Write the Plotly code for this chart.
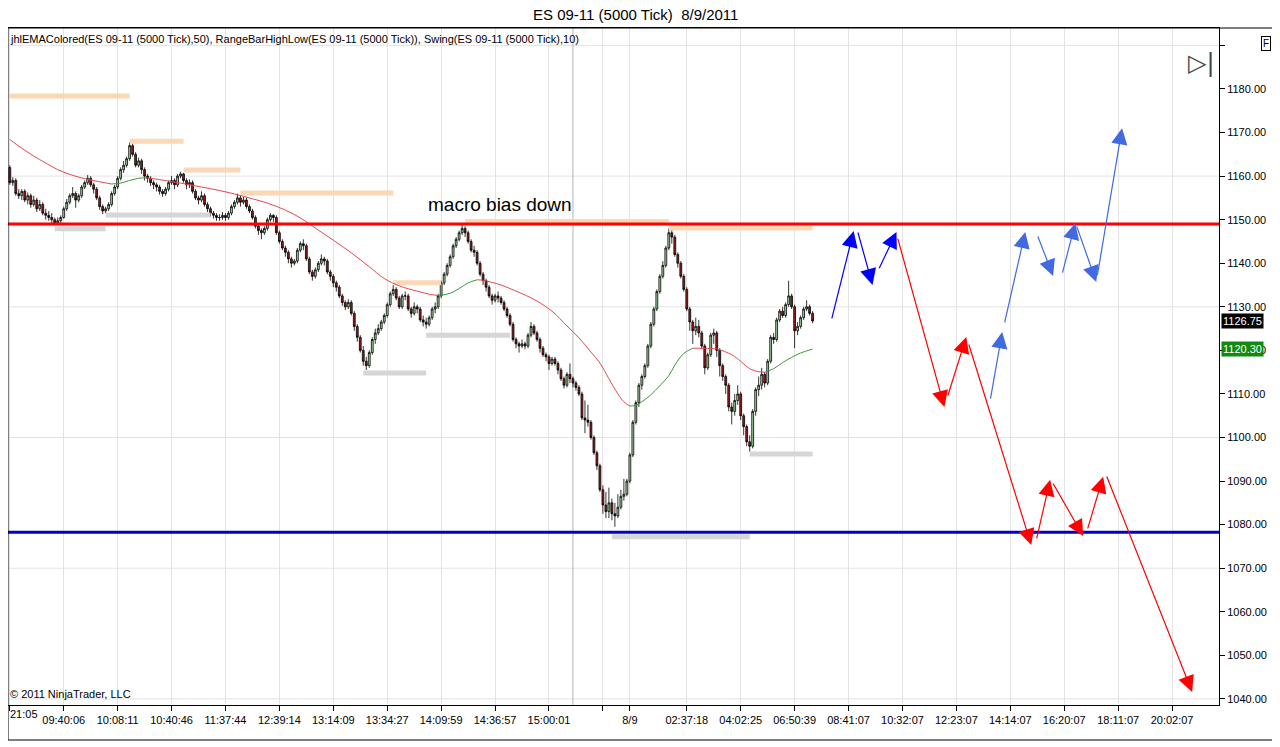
import plotly.graph_objects as go

# ES 09-11 (5000 Tick) bars, session of 8/9/2011
opens = [
    1162, 1158.5, 1159, 1156, 1155.5, 1156.5, 1154.5, 1155.5, 1153.5, 1154.5,
    1152.5, 1153.5, 1151.5, 1151, 1150.5, 1150, 1149.25, 1149.75, 1150.5, 1152.5,
    1154, 1155.5, 1156, 1154.5, 1155.5, 1157.5, 1158.5, 1159.5, 1158, 1157,
    1155, 1153, 1152, 1152.5, 1153.5, 1156, 1157.5, 1159.5, 1161.5, 1162.5,
    1164, 1167, 1165, 1162.5, 1163.5, 1161.5, 1160, 1159.5, 1158.5, 1158,
    1157.5, 1156.5, 1156, 1157, 1158.5, 1159, 1158, 1160, 1160.5, 1159,
    1158, 1158.5, 1156.5, 1155, 1154.5, 1155.5, 1153.5, 1152.5, 1151.5, 1151,
    1150.5, 1150.5, 1151, 1150.5, 1151.5, 1153, 1154, 1155, 1154, 1154.5,
    1153, 1152, 1150.5, 1148.5, 1147.5, 1147, 1148, 1150, 1151, 1150.5,
    1147, 1145, 1143.5, 1142.5, 1141, 1140, 1140.5, 1143, 1144.5, 1144,
    1141, 1138, 1137, 1138.5, 1140, 1141, 1140.5, 1138, 1137, 1135.5,
    1134.5, 1132.5, 1131, 1130, 1131, 1128.5, 1125.5, 1123, 1120, 1117.5,
    1116.5, 1119.5, 1122.5, 1124, 1125, 1126.5, 1128, 1130.5, 1133, 1134,
    1132, 1130, 1132.5, 1132.5, 1129.5, 1128.5, 1130, 1129.5, 1127, 1126.5,
    1126, 1127.5, 1129.5, 1130, 1132.5, 1135.5, 1137.5, 1139.5, 1141.5, 1144,
    1145.5, 1147, 1148, 1147, 1145, 1143, 1142.5, 1140, 1137.5, 1136,
    1134.5, 1132.5, 1131.5, 1132.5, 1132, 1131, 1129.5, 1128, 1126, 1122.5,
    1121.5, 1121, 1121.5, 1121, 1123.5, 1125.5, 1124, 1122.5, 1120.5, 1119,
    1118.5, 1117, 1118, 1117, 1115.5, 1113.5, 1112, 1114.5, 1113.5, 1112.5,
    1111.5, 1110, 1104.5, 1104, 1103.5, 1100, 1096.5, 1093.5, 1088, 1084.5,
    1083, 1085, 1082.5, 1082, 1084, 1086.5, 1087, 1090, 1096, 1103.5,
    1108, 1112, 1114, 1116.5, 1121, 1126, 1129.5, 1133.5, 1137, 1139.5,
    1143.5, 1147, 1146, 1142, 1140, 1137, 1134, 1129.5, 1126.5, 1124.5,
    1125.5, 1124, 1121, 1116, 1119, 1123.5, 1124, 1120, 1116.5, 1114,
    1112, 1107, 1106, 1108.5, 1110, 1105, 1102.5, 1099, 1098, 1106,
    1111, 1112, 1114.5, 1112.5, 1117.5, 1123, 1122.5, 1127, 1129, 1128,
    1130.5, 1132.5, 1130, 1124.5, 1125.5, 1127.5, 1129.5, 1130, 1128.5,
]
highs = [
    1162.5, 1159.75, 1159.5, 1157, 1157, 1157, 1156.25, 1156, 1155.5, 1155,
    1154.5, 1154, 1152.5, 1152, 1151.5, 1150.5, 1150.5, 1151, 1153, 1154.75,
    1156, 1157.5, 1156.5, 1156, 1158, 1159, 1160.25, 1160, 1158.5, 1157.5,
    1155.5, 1153.5, 1153, 1154, 1156.5, 1158, 1160, 1162, 1163.5, 1164.5,
    1167.75, 1167.5, 1165.5, 1164.25, 1164, 1162, 1160.5, 1160, 1159, 1158.5,
    1158, 1157, 1157.5, 1159, 1160, 1159.5, 1160.5, 1161, 1160.75, 1159.5,
    1159.25, 1159, 1157, 1155.5, 1156.5, 1156, 1154, 1153, 1152, 1151.5,
    1151.25, 1151.75, 1151.5, 1152, 1153.5, 1154.5, 1156, 1155.5, 1155.25, 1155,
    1153.5, 1152.5, 1151, 1149, 1148, 1148.5, 1150.5, 1151.5, 1151.25, 1151,
    1147.5, 1145.5, 1144, 1143, 1141.5, 1141, 1143.5, 1145, 1145.5, 1144.5,
    1141.5, 1138.5, 1139, 1140.5, 1142, 1141.5, 1141, 1138.5, 1137.5, 1136,
    1135, 1133, 1131.5, 1131.75, 1131.5, 1129, 1126, 1123.5, 1121, 1118.5,
    1120, 1123, 1125, 1126, 1127, 1128.5, 1131, 1133.5, 1135, 1134.5,
    1132.5, 1133, 1133.5, 1133, 1130, 1131, 1130.5, 1130, 1128, 1127.5,
    1128, 1130, 1131, 1133, 1136, 1138, 1140, 1142, 1144.5, 1146,
    1147.5, 1149, 1148.5, 1147.5, 1145.5, 1144, 1143, 1140.5, 1138, 1136.5,
    1135, 1133, 1133, 1133.5, 1132.5, 1131.5, 1130, 1128.5, 1126.5, 1123,
    1122, 1122.5, 1122, 1124, 1126.5, 1126, 1124.5, 1123, 1121, 1119.5,
    1119, 1118.5, 1118.5, 1117.5, 1116, 1114, 1115, 1117, 1114, 1113,
    1112, 1110.5, 1108.5, 1107.5, 1104, 1100.5, 1097, 1094, 1089, 1087.5,
    1088.5, 1086, 1085, 1087, 1088, 1090.5, 1090.5, 1096.5, 1104, 1108.5,
    1112.5, 1114.5, 1117, 1121.5, 1126.5, 1130, 1134, 1137.5, 1140.5, 1144,
    1148, 1148, 1146.5, 1142.5, 1140.5, 1137.5, 1134.5, 1130, 1127, 1127.5,
    1127, 1124.5, 1121.5, 1119.5, 1124, 1125, 1124.5, 1120.5, 1117, 1114.5,
    1112.5, 1108, 1110, 1112, 1110.5, 1105.5, 1103, 1100.5, 1106.5, 1111.5,
    1114, 1116, 1115, 1118, 1123.5, 1124, 1127.5, 1129.5, 1130, 1131,
    1136, 1133, 1130.5, 1126.5, 1128, 1130, 1131.5, 1130.5, 1129,
]
lows = [
    1158, 1157.75, 1155.5, 1154.75, 1154.5, 1154, 1153.5, 1152.75, 1153, 1151.75,
    1152, 1151, 1150, 1149.75, 1149.25, 1148.75, 1148.75, 1149.25, 1150.25, 1152,
    1153.5, 1155, 1152.75, 1154, 1155, 1157, 1158, 1157.5, 1156, 1154.5,
    1152.25, 1151.25, 1151.5, 1152, 1153, 1155.5, 1157, 1159, 1160.75, 1162,
    1163.5, 1164.5, 1162, 1162, 1160.5, 1159, 1158.5, 1157.75, 1157, 1156.5,
    1155.75, 1155.25, 1155.5, 1156.5, 1158, 1157, 1157.5, 1159.5, 1158.5, 1157,
    1157.25, 1156, 1154.5, 1153.5, 1154, 1153, 1151.75, 1150.75, 1150.25, 1149.75,
    1149.75, 1150, 1149.75, 1150, 1151, 1152.5, 1153.5, 1153, 1153.5, 1152.5,
    1151.5, 1150, 1148, 1146.5, 1145.5, 1146.5, 1147.5, 1149.5, 1149.5, 1146.5,
    1144.5, 1143, 1141.5, 1140, 1139, 1139.5, 1140, 1142.5, 1143, 1140.5,
    1137.5, 1136, 1136.5, 1138, 1139.5, 1139.5, 1137.5, 1136, 1134.5, 1133.5,
    1132, 1130.25, 1129.25, 1129.5, 1128, 1124.5, 1122, 1119.5, 1116.5, 1115.5,
    1116, 1119, 1121.5, 1123.5, 1124.5, 1126, 1127.5, 1130, 1132.5, 1131.5,
    1129.5, 1129.5, 1131.5, 1129, 1127.5, 1128, 1128.5, 1126.5, 1125.5, 1125,
    1125.5, 1127, 1128.5, 1129.5, 1132, 1135, 1137, 1139, 1141, 1143.5,
    1145, 1146.5, 1146, 1144.5, 1142.5, 1141.5, 1139.5, 1137, 1135, 1133.5,
    1132, 1130.5, 1131, 1131, 1130.5, 1129, 1127.5, 1125.5, 1122, 1120.5,
    1119.5, 1120.5, 1120.25, 1120.5, 1123, 1123.5, 1122, 1119.5, 1118.5, 1117.5,
    1115.5, 1116.5, 1116.5, 1114.5, 1113, 1111.25, 1111.5, 1112.5, 1111.5, 1110.75,
    1109.5, 1104, 1101, 1102.5, 1099.5, 1096, 1092.5, 1087.5, 1082.5, 1081.5,
    1081.5, 1081, 1079.5, 1081.5, 1083.5, 1085.5, 1086.5, 1089.5, 1095.5, 1103,
    1107, 1111, 1113.5, 1116, 1120.5, 1125.5, 1129, 1133, 1136.5, 1139,
    1143, 1144.5, 1141.5, 1139, 1136.5, 1133.5, 1129, 1124.5, 1121.5, 1123.5,
    1123, 1120.5, 1114.5, 1115.5, 1118.5, 1121.5, 1118.5, 1114, 1113, 1110,
    1106, 1103, 1105, 1107.5, 1104, 1100.5, 1098, 1096.75, 1097.5, 1105,
    1109.5, 1111, 1111.5, 1112, 1117, 1121.5, 1122, 1126.5, 1127.5, 1127.5,
    1130, 1129.5, 1120.5, 1123.5, 1125, 1127, 1129, 1128, 1126.25,
]
closes = [
    1158.5, 1159, 1156, 1155.5, 1156.5, 1154.5, 1155.5, 1153.5, 1154.5, 1152.5,
    1153.5, 1151.5, 1151, 1150.5, 1150, 1149.25, 1149.75, 1150.5, 1152.5, 1154,
    1155.5, 1156, 1154.5, 1155.5, 1157.5, 1158.5, 1159.5, 1158, 1157, 1155,
    1153, 1152, 1152.5, 1153.5, 1156, 1157.5, 1159.5, 1161.5, 1162.5, 1164,
    1167, 1165, 1162.5, 1163.5, 1161.5, 1160, 1159.5, 1158.5, 1158, 1157.5,
    1156.5, 1156, 1157, 1158.5, 1159, 1158, 1160, 1160.5, 1159, 1158,
    1158.5, 1156.5, 1155, 1154.5, 1155.5, 1153.5, 1152.5, 1151.5, 1151, 1150.5,
    1150.5, 1151, 1150.5, 1151.5, 1153, 1154, 1155, 1154, 1154.5, 1153,
    1152, 1150.5, 1148.5, 1147.5, 1147, 1148, 1150, 1151, 1150.5, 1147,
    1145, 1143.5, 1142.5, 1141, 1140, 1140.5, 1143, 1144.5, 1144, 1141,
    1138, 1137, 1138.5, 1140, 1141, 1140.5, 1138, 1137, 1135.5, 1134.5,
    1132.5, 1131, 1130, 1131, 1128.5, 1125.5, 1123, 1120, 1117.5, 1116.5,
    1119.5, 1122.5, 1124, 1125, 1126.5, 1128, 1130.5, 1133, 1134, 1132,
    1130, 1132.5, 1132.5, 1129.5, 1128.5, 1130, 1129.5, 1127, 1126.5, 1126,
    1127.5, 1129.5, 1130, 1132.5, 1135.5, 1137.5, 1139.5, 1141.5, 1144, 1145.5,
    1147, 1148, 1147, 1145, 1143, 1142.5, 1140, 1137.5, 1136, 1134.5,
    1132.5, 1131.5, 1132.5, 1132, 1131, 1129.5, 1128, 1126, 1122.5, 1121.5,
    1121, 1121.5, 1121, 1123.5, 1125.5, 1124, 1122.5, 1120.5, 1119, 1118.5,
    1117, 1118, 1117, 1115.5, 1113.5, 1112, 1114.5, 1113.5, 1112.5, 1111.5,
    1110, 1104.5, 1104, 1103.5, 1100, 1096.5, 1093.5, 1088, 1084.5, 1083,
    1085, 1082.5, 1082, 1084, 1086.5, 1087, 1090, 1096, 1103.5, 1108,
    1112, 1114, 1116.5, 1121, 1126, 1129.5, 1133.5, 1137, 1139.5, 1143.5,
    1147, 1146, 1142, 1140, 1137, 1134, 1129.5, 1126.5, 1124.5, 1125.5,
    1124, 1121, 1116, 1119, 1123.5, 1124, 1120, 1116.5, 1114, 1112,
    1107, 1106, 1108.5, 1110, 1105, 1102.5, 1099, 1098, 1106, 1111,
    1112, 1114.5, 1112.5, 1117.5, 1123, 1122.5, 1127, 1129, 1128, 1130.5,
    1132.5, 1130, 1124.5, 1125.5, 1127.5, 1129.5, 1130, 1128.5, 1126.75,
]
bar_index = list(range(len(closes)))

# time axis labels (bar index -> label); the first one is drawn left-aligned
first_label = "21:05"
tick_bars = [0, 18, 36, 54, 72, 90, 108, 126, 144, 162, 180, 198, 207,
             226, 244, 262, 280, 298, 316, 334, 352, 370, 388]
tick_labels = ["", "09:40:06", "10:08:11", "10:40:46", "11:37:44", "12:39:14",
               "13:14:09", "13:34:27", "14:09:59", "14:36:57", "15:00:01", "", "8/9",
               "02:37:18", "04:02:25", "06:50:39", "08:41:07", "10:32:07", "12:23:07",
               "14:14:07", "16:20:07", "18:11:07", "20:02:07"]
session_break = 188

price_ticks = [1040, 1050, 1060, 1070, 1080, 1090, 1100, 1110, 1120, 1130,
               1140, 1150, 1160, 1170, 1180, 1190]
grid_prices = [1040, 1070, 1100, 1130, 1160, 1190]

# jhlEMAColored(50) read at sample bars
ema_bars = [0, 4, 8, 12, 16, 20, 25, 30, 34, 37, 40, 43, 46, 50, 57, 64, 70, 75, 81,
            86, 92, 97, 103, 108, 114, 120, 125, 130, 136, 140, 143, 147, 150, 153,
            156, 158, 161, 164, 170, 175, 181, 186, 190, 194, 197, 200, 203, 205,
            207, 209, 211, 214, 217, 220, 222, 225, 228, 232, 236, 241, 244, 247,
            250, 252, 255, 258, 261, 264, 268]
ema_values = [1168.4, 1166.4, 1164.6, 1163.0, 1161.5, 1160.4, 1159.4, 1158.7, 1158.2,
              1158.4, 1159.0, 1159.5, 1159.6, 1159.2, 1158.4, 1157.5, 1156.7, 1155.9,
              1154.8, 1153.8, 1152.2, 1150.4, 1147.6, 1145.3, 1142.4, 1139.2, 1136.5,
              1134.8, 1133.6, 1132.9, 1132.6, 1133.1, 1134.2, 1135.5, 1136.2, 1136.1,
              1135.6, 1135.0, 1133.3, 1131.7, 1129.0, 1125.6, 1122.9, 1119.6, 1117.1,
              1113.5, 1110.0, 1108.2, 1107.2, 1107.4, 1108.2, 1109.8, 1111.9, 1114.2,
              1116.6, 1119.3, 1120.5, 1120.45, 1120.3, 1119.0, 1117.5, 1115.8, 1115.1,
              1115.0, 1115.8, 1117.2, 1118.4, 1119.4, 1120.3]

# Swing(10) levels: (first bar, last bar, price)
swing_highs = [(0, 40, 1178.4), (40, 58, 1168.0), (58, 77, 1161.4), (77, 128, 1156.1),
               (128, 144, 1135.5), (152, 220, 1149.6), (220, 268, 1148.1)]
swing_lows = [(15, 32, 1147.9), (32, 67, 1151.1), (118, 139, 1114.8), (139, 167, 1123.5),
              (201, 247, 1077.2), (247, 268, 1096.2)]

resistance = 1149.0
support = 1078.25
last_price = 1126.75
last_ema = 1120.30

# hand-drawn projection arrows: (tail bar, tail price, tip bar, tip price)
arrows_blue = [(274.3, 1127.0, 281.7, 1147.4), (283.0, 1147.4, 288.0, 1135.0),
               (290.0, 1138.5, 296.0, 1147.2)]
arrows_red = [(296.3, 1146.0, 312.0, 1107.0), (313.0, 1109.3, 319.3, 1123.1),
              (320.0, 1121.7, 341.0, 1075.3), (342.7, 1076.5, 347.3, 1090.3),
              (348.0, 1089.8, 358.3, 1077.4), (359.7, 1078.8, 365.0, 1091.0),
              (366.0, 1091.4, 394.7, 1041.6)]
arrows_light = [(327.3, 1108.6, 331.3, 1124.2), (332.0, 1126.1, 339.0, 1147.2),
                (343.0, 1146.5, 348.3, 1137.1), (351.3, 1137.5, 355.7, 1149.2),
                (356.0, 1148.8, 362.7, 1135.7), (363.0, 1136.9, 371.3, 1171.0)]

FONT = "Arial, Liberation Sans, sans-serif"
EMA_UP = "#3c9a3c"
EMA_DOWN = "#e5484d"

fig = go.Figure()

# swing lines sit under the bars
for x0, x1, p in swing_highs:
    fig.add_trace(go.Scatter(x=[x0, x1], y=[p, p], mode="lines",
                             line=dict(color="#fcd7b6", width=5), hoverinfo="skip"))
for x0, x1, p in swing_lows:
    fig.add_trace(go.Scatter(x=[x0, x1], y=[p, p], mode="lines",
                             line=dict(color="#d6d6d6", width=5), hoverinfo="skip"))

fig.add_trace(go.Candlestick(
    x=bar_index, open=opens, high=highs, low=lows, close=closes,
    increasing=dict(line=dict(color="black", width=0.8), fillcolor="#a3dba3"),
    decreasing=dict(line=dict(color="black", width=0.8), fillcolor="#981c1c"),
    whiskerwidth=0, hoverinfo="skip",
))

# EMA coloured by slope
runs = []
for k in range(len(ema_bars) - 1):
    col = EMA_UP if ema_values[k + 1] > ema_values[k] else EMA_DOWN
    if runs and runs[-1][0] == col:
        runs[-1][1].append(k + 1)
    else:
        runs.append([col, [k, k + 1]])
for col, idx in runs:
    fig.add_trace(go.Scatter(x=[ema_bars[j] for j in idx], y=[ema_values[j] for j in idx],
                             mode="lines", line=dict(color=col, width=1, shape="spline"),
                             hoverinfo="skip"))

shapes = []
for g in grid_prices:
    shapes.append(dict(type="line", xref="paper", x0=0, x1=1, yref="y", y0=g, y1=g,
                       line=dict(color="#e3e3e3", width=1), layer="below"))
shapes.append(dict(type="line", xref="x", x0=session_break, x1=session_break, yref="paper",
                   y0=0, y1=1, line=dict(color="#b4b4b4", width=1), layer="below"))
shapes.append(dict(type="line", xref="paper", x0=0, x1=1, yref="y", y0=resistance,
                   y1=resistance, line=dict(color="#ff0000", width=3)))
shapes.append(dict(type="line", xref="paper", x0=0, x1=1, yref="y", y0=support,
                   y1=support, line=dict(color="#0000cc", width=3)))
# outer panel frame
shapes.append(dict(type="rect", xref="paper", yref="paper", x0=0, x1=1.0487, y0=-0.0517,
                   y1=1, line=dict(color="black", width=1)))

annotations = []
for arrows, col in ((arrows_blue, "#0000ff"), (arrows_red, "#ff0000"),
                    (arrows_light, "#4169e1")):
    for ax, ay, x, y in arrows:
        annotations.append(dict(x=x, y=y, ax=ax, ay=ay, xref="x", yref="y", axref="x",
                                ayref="y", text="", showarrow=True, arrowhead=2,
                                arrowsize=2.7, arrowwidth=1.2, arrowcolor=col, standoff=0))

annotations += [
    dict(x=163.7, y=1153.6, xref="x", yref="y", text="macro bias down", showarrow=False,
         font=dict(family=FONT, size=19, color="black")),
    dict(x=0.0, y=0.9838, xref="paper", yref="paper", xanchor="left", yanchor="middle",
         showarrow=False, font=dict(family=FONT, size=11, color="black"),
         text="jhlEMAColored(ES 09-11 (5000 Tick),50), RangeBarHighLow(ES 09-11 (5000 Tick)), "
              "Swing(ES 09-11 (5000 Tick),10)"),
    dict(x=0.0, y=0.0162, xref="paper", yref="paper", xanchor="left", yanchor="middle",
         showarrow=False, text="© 2011 NinjaTrader, LLC",
         font=dict(family=FONT, size=11, color="black")),
    dict(x=0.0, y=-0.0133, xref="paper", yref="paper", xanchor="left", yanchor="middle",
         showarrow=False, text=first_label, font=dict(family=FONT, size=11, color="black")),
    dict(x=1.0017, y=last_price, xref="paper", yref="y", xanchor="left", yanchor="middle",
         showarrow=False, text=f"{last_price:.2f}", bgcolor="black", borderpad=1,
         font=dict(family=FONT, size=11, color="white")),
    dict(x=1.0017, y=last_ema, xref="paper", yref="y", xanchor="left", yanchor="middle",
         showarrow=False, text=f"{last_ema:.2f}", bgcolor="#108a10", borderpad=1,
         font=dict(family=FONT, size=11, color="white")),
    dict(x=0.9985, y=0.972, xref="paper", yref="paper", showarrow=False, text="▷|",
         font=dict(family="DejaVu Sans", size=24, color="#444444")),
    dict(x=1.0432, y=0.9885, xref="paper", yref="paper", showarrow=False, text="F",
         bordercolor="black", borderwidth=1, borderpad=1,
         font=dict(family=FONT, size=10, color="black")),
    # chart header above the plot frame
    dict(x=0.5185, y=1.0195, xref="paper", yref="paper", xanchor="center",
         yanchor="middle", showarrow=False, text="ES 09-11 (5000 Tick)\u00a0\u00a08/9/2011",
         font=dict(family=FONT, size=15, color="black")),
]

fig.update_layout(
    width=1272, height=739,
    margin=dict(l=0, r=61, t=20, b=42),
    paper_bgcolor="white", plot_bgcolor="white",
    showlegend=False, boxgap=0.12,
    xaxis=dict(range=[-0.6, 403.67], tickvals=tick_bars, ticktext=tick_labels,
               showgrid=True, gridcolor="#e3e3e3", gridwidth=1, zeroline=False,
               showline=True, linecolor="black", mirror=True, ticks="outside",
               ticklen=5, tickcolor="black", rangeslider=dict(visible=False),
               tickfont=dict(family=FONT, size=11, color="black")),
    yaxis=dict(range=[1038.6, 1194.0], side="right", tickvals=price_ticks,
               ticktext=[f"{p:.2f}" if p < 1190 else "" for p in price_ticks],
               showgrid=False, zeroline=False, showline=True, linecolor="black",
               ticks="outside", ticklen=5, tickcolor="black",
               tickfont=dict(family=FONT, size=11, color="black")),
    shapes=shapes,
    annotations=annotations,
)

fig.write_html("out.html")
